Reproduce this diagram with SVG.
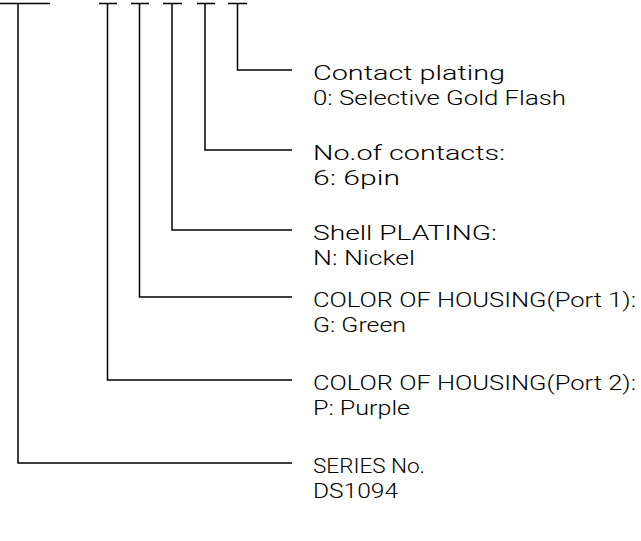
<svg xmlns="http://www.w3.org/2000/svg" width="641" height="541" viewBox="0 0 641 541">
<style>
.ln{stroke:#000;stroke-width:1.5;fill:none}
.t{font-family:Roboto,"Liberation Sans",Arial,sans-serif;font-weight:300;font-size:21px;fill:#000}
</style>
<rect width="641" height="541" fill="#fff"/>
<g id="connectors">
<path class="ln" d="M0 3.5H50M18 3.5V463H292"/>
<path class="ln" d="M99 3.5H117M107.5 3.5V380H292"/>
<path class="ln" d="M131 3.5H149M139.5 3.5V297H292"/>
<path class="ln" d="M163 3.5H182M172 3.5V230H292"/>
<path class="ln" d="M197 3.5H215M205 3.5V150H292"/>
<path class="ln" d="M228 3.5H247M237.5 3.5V70H292"/>
</g>
<g id="contact-plating">
<text class="t" x="313" y="80" textLength="192" lengthAdjust="spacingAndGlyphs">Contact plating</text>
<text class="t" x="313" y="105" textLength="253" lengthAdjust="spacingAndGlyphs">0: Selective Gold Flash</text>
</g>
<g id="contacts">
<text class="t" x="313" y="160" textLength="192" lengthAdjust="spacingAndGlyphs">No.of contacts:</text>
<text class="t" x="313" y="185" textLength="87" lengthAdjust="spacingAndGlyphs">6: 6pin</text>
</g>
<g id="shell-plating">
<text class="t" x="313" y="240" textLength="184" lengthAdjust="spacingAndGlyphs">Shell PLATING:</text>
<text class="t" x="313" y="265" textLength="102" lengthAdjust="spacingAndGlyphs">N: Nickel</text>
</g>
<g id="color-port1">
<text class="t" x="313" y="307" textLength="323" lengthAdjust="spacingAndGlyphs">COLOR OF HOUSING(Port 1):</text>
<text class="t" x="313" y="332" textLength="93" lengthAdjust="spacingAndGlyphs">G: Green</text>
</g>
<g id="color-port2">
<text class="t" x="313" y="390" textLength="323" lengthAdjust="spacingAndGlyphs">COLOR OF HOUSING(Port 2):</text>
<text class="t" x="313" y="415" textLength="97" lengthAdjust="spacingAndGlyphs">P: Purple</text>
</g>
<g id="series">
<text class="t" x="313" y="473" textLength="112" lengthAdjust="spacingAndGlyphs">SERIES No.</text>
<text class="t" x="313" y="498" textLength="85" lengthAdjust="spacingAndGlyphs">DS1094</text>
</g>
</svg>
